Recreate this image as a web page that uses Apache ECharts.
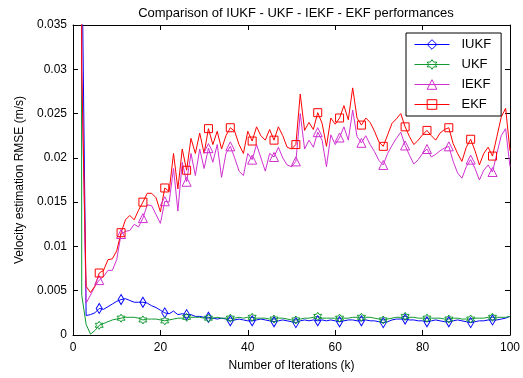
<!DOCTYPE html>
<html>
<head>
<meta charset="utf-8">
<script src="https://cdn.jsdelivr.net/npm/echarts@6/dist/echarts.min.js"></script>
<style>
  html, body { margin: 0; padding: 0; background: #fff; }
  #chart { width: 523px; height: 378px; }
</style>
</head>
<body>
<div id="chart"></div>
<script>
// RMSE per iteration k = 1..100 (first point is far above the axis)
const iukf = [
  0.5, 0.045, 0.0022, 0.0023, 0.0025, 0.0030, 0.0029, 0.0032, 0.0035, 0.0038,
  0.0040, 0.0041, 0.0039, 0.0037, 0.0037, 0.0037, 0.0036, 0.0033, 0.0031, 0.0028,
  0.0025, 0.0024, 0.0027, 0.0023, 0.0024, 0.0023, 0.0023, 0.0021, 0.0021, 0.0020,
  0.0020, 0.0019, 0.0018, 0.0019, 0.0018, 0.0016, 0.0017, 0.0018, 0.0017, 0.0016,
  0.0016, 0.0017, 0.0018, 0.0017, 0.0016, 0.0015, 0.0016, 0.0017, 0.0016, 0.0015,
  0.0014, 0.0016, 0.0017, 0.0016, 0.0017, 0.0016, 0.0017, 0.0016, 0.0017, 0.0016,
  0.0015, 0.0016, 0.0017, 0.0017, 0.0016, 0.0016, 0.0017, 0.0016, 0.0016, 0.0015,
  0.0014, 0.0015, 0.0017, 0.0018, 0.0018, 0.0018, 0.0017, 0.0017, 0.0016, 0.0016,
  0.0015, 0.0016, 0.0017, 0.0016, 0.0015, 0.0015, 0.0016, 0.0017, 0.0016, 0.0015,
  0.0014, 0.0015, 0.0016, 0.0016, 0.0017, 0.0017, 0.0017, 0.0018, 0.0019, 0.0021
];
const ukf = [
  0.5, 0.0045, 0.0012, 0.0001, 0.0005, 0.0011, 0.0013, 0.0015, 0.0017, 0.0018,
  0.0019, 0.0020, 0.0020, 0.0020, 0.0019, 0.0017, 0.0018, 0.0018, 0.0018, 0.0017,
  0.0016, 0.0017, 0.0018, 0.0019, 0.0019, 0.0020, 0.0020, 0.0020, 0.0020, 0.0019,
  0.0019, 0.0019, 0.0020, 0.0019, 0.0019, 0.0019, 0.0019, 0.0020, 0.0019, 0.0020,
  0.0020, 0.0019, 0.0019, 0.0019, 0.0018, 0.0018, 0.0019, 0.0019, 0.0018, 0.0017,
  0.0017, 0.0018, 0.0019, 0.0019, 0.0020, 0.0021, 0.0019, 0.0019, 0.0019, 0.0019,
  0.0019, 0.0019, 0.0019, 0.0020, 0.0020, 0.0020, 0.0020, 0.0020, 0.0019, 0.0018,
  0.0017, 0.0018, 0.0019, 0.0020, 0.0020, 0.0021, 0.0020, 0.0020, 0.0019, 0.0019,
  0.0019, 0.0019, 0.0019, 0.0019, 0.0018, 0.0018, 0.0019, 0.0019, 0.0018, 0.0018,
  0.0018, 0.0019, 0.0019, 0.0019, 0.0020, 0.0020, 0.0020, 0.0020, 0.0020, 0.0021
];
const iekf = [
  0.5, 0.030, 0.0036, 0.0045, 0.0055, 0.0062, 0.0066, 0.0073, 0.0073, 0.0085,
  0.0114, 0.0117, 0.0118, 0.0125, 0.0122, 0.0132, 0.0147, 0.0146, 0.0136, 0.0126,
  0.0151, 0.0150, 0.0188, 0.0140, 0.0195, 0.0173, 0.0205, 0.0180, 0.0210, 0.0188,
  0.0211, 0.0195, 0.0215, 0.0178, 0.0205, 0.0213, 0.0200, 0.0185, 0.0180, 0.0205,
  0.0198, 0.0215, 0.0200, 0.0185, 0.0205, 0.0201, 0.0212, 0.0200, 0.0192, 0.0190,
  0.0196, 0.0250, 0.0210, 0.0220, 0.0212, 0.0229, 0.0220, 0.0190, 0.0226, 0.0215,
  0.0223, 0.0235, 0.0220, 0.0254, 0.0224, 0.0217, 0.0225, 0.0215, 0.0207, 0.0197,
  0.0192, 0.0205, 0.0214, 0.0222, 0.0229, 0.0214, 0.0203, 0.0193, 0.0198, 0.0205,
  0.0210, 0.0201, 0.0204, 0.0208, 0.0211, 0.0213, 0.0196, 0.0183, 0.0177, 0.0190,
  0.0198, 0.0188, 0.0175, 0.0186, 0.0192, 0.0184, 0.0205, 0.0225, 0.0233, 0.0190
];
const ekf = [
  0.5, 0.030, 0.0055, 0.0048, 0.0055, 0.0070, 0.0073, 0.0085, 0.0086, 0.0095,
  0.01155, 0.0130, 0.0135, 0.0130, 0.0141, 0.0150, 0.0160, 0.0160, 0.0155, 0.0139,
  0.0166, 0.0162, 0.0205, 0.0165, 0.0210, 0.0186, 0.0222, 0.0205, 0.0228, 0.0205,
  0.0233, 0.0215, 0.0230, 0.0210, 0.0225, 0.0234, 0.0230, 0.0215, 0.0205, 0.0230,
  0.0219, 0.0235, 0.0225, 0.0220, 0.0232, 0.0220, 0.0235, 0.0225, 0.0212, 0.0210,
  0.0215, 0.0272, 0.0231, 0.0240, 0.0232, 0.0251, 0.0239, 0.0213, 0.0245, 0.0238,
  0.0245, 0.0259, 0.0243, 0.0279, 0.0245, 0.0237, 0.0245, 0.0240, 0.0230, 0.0218,
  0.0213, 0.0226, 0.0239, 0.0244, 0.0250, 0.0235, 0.0224, 0.0215, 0.0220, 0.0226,
  0.0231, 0.0225, 0.0220, 0.0228, 0.0232, 0.0234, 0.0216, 0.0205, 0.0196, 0.0212,
  0.0221, 0.0208, 0.0192, 0.0205, 0.0212, 0.0202, 0.0224, 0.0246, 0.0256, 0.0208
];

const names = ["IUKF", "UKF", "IEKF", "EKF"];
const colors = ["#0000ff", "#109a30", "#d030d0", "#ff0000"];
const hexagram = "path://M0,-10L2.9,-5L8.66,-5L5.8,0L8.66,5L2.9,5L0,10L-2.9,5L-8.66,5L-5.8,0L-8.66,-5L-2.9,-5Z";
const symbols = ["diamond", hexagram, "triangle", "rect"];
const sizes = [[6, 10], 8, 9, 8];
const font = "Liberation Sans, Arial, sans-serif";

// marker on every 5th sample (k = 1, 6, 11, ...)
function toData(arr) {
  return arr.map(function (v, i) {
    const item = { value: [i + 1, v] };
    if (i % 5 !== 0) item.symbol = "none";
    return item;
  });
}

const chart = echarts.init(document.getElementById("chart"));

const axisCommon = {
  axisLine: { show: true, onZero: false, lineStyle: { color: "#000", width: 1 } },
  axisTick: { show: true, inside: true, length: 5, lineStyle: { color: "#000" } },
  splitLine: { show: false },
};

chart.setOption({
  animation: false,
  backgroundColor: "#fff",
  title: {
    text: "Comparison of IUKF - UKF - IEKF - EKF performances",
    left: 291,
    top: 2,
    textAlign: "center",
    textStyle: { fontFamily: font, fontSize: 13, fontWeight: "normal", color: "#000" },
  },
  legend: {
    orient: "vertical",
    left: 406,
    top: 33,
    padding: [5, 10, 5, 8],
    itemWidth: 35,
    itemHeight: 12,
    itemGap: 7,
    borderColor: "#000",
    borderWidth: 1,
    backgroundColor: "#fff",
    itemStyle: { borderWidth: 1 },
    lineStyle: { width: 1 },
    textStyle: { fontFamily: font, fontSize: 13, color: "#000", padding: [0, 0, 0, 7] },
    data: names,
  },
  grid: { left: 73, right: 13, top: 25, bottom: 43 },
  xAxis: [
    Object.assign({
      type: "value", min: 0, max: 100, interval: 20, position: "bottom",
      name: "Number of Iterations (k)", nameLocation: "middle", nameGap: 25,
      nameTextStyle: { fontFamily: font, fontSize: 12, color: "#000" },
      axisLabel: { fontFamily: font, fontSize: 12, color: "#000", margin: 7 },
    }, axisCommon),
    Object.assign({
      type: "value", min: 0, max: 100, interval: 20, position: "top",
      axisLabel: { show: false },
    }, axisCommon),
  ],
  yAxis: [
    Object.assign({
      type: "value", min: 0, max: 0.035, interval: 0.005, position: "left",
      name: "Velocity estimation RMSE (m/s)", nameLocation: "middle", nameGap: 46,
      nameTextStyle: { fontFamily: font, fontSize: 12, color: "#000" },
      axisLabel: { fontFamily: font, fontSize: 12, color: "#000", margin: 6 },
    }, axisCommon),
    Object.assign({
      type: "value", min: 0, max: 0.035, interval: 0.005, position: "right",
      axisLabel: { show: false },
    }, axisCommon),
  ],
  series: [iukf, ukf, iekf, ekf].map(function (arr, s) {
    return {
      name: names[s],
      type: "line",
      xAxisIndex: 0,
      yAxisIndex: 0,
      data: toData(arr),
      clip: true,
      showAllSymbol: true,
      symbol: symbols[s],
      symbolSize: sizes[s],
      lineStyle: { color: colors[s], width: 1 },
      itemStyle: { color: "rgba(0,0,0,0)", borderColor: colors[s], borderWidth: 1 },
      emphasis: { disabled: true },
    };
  }),
});
</script>
</body>
</html>
